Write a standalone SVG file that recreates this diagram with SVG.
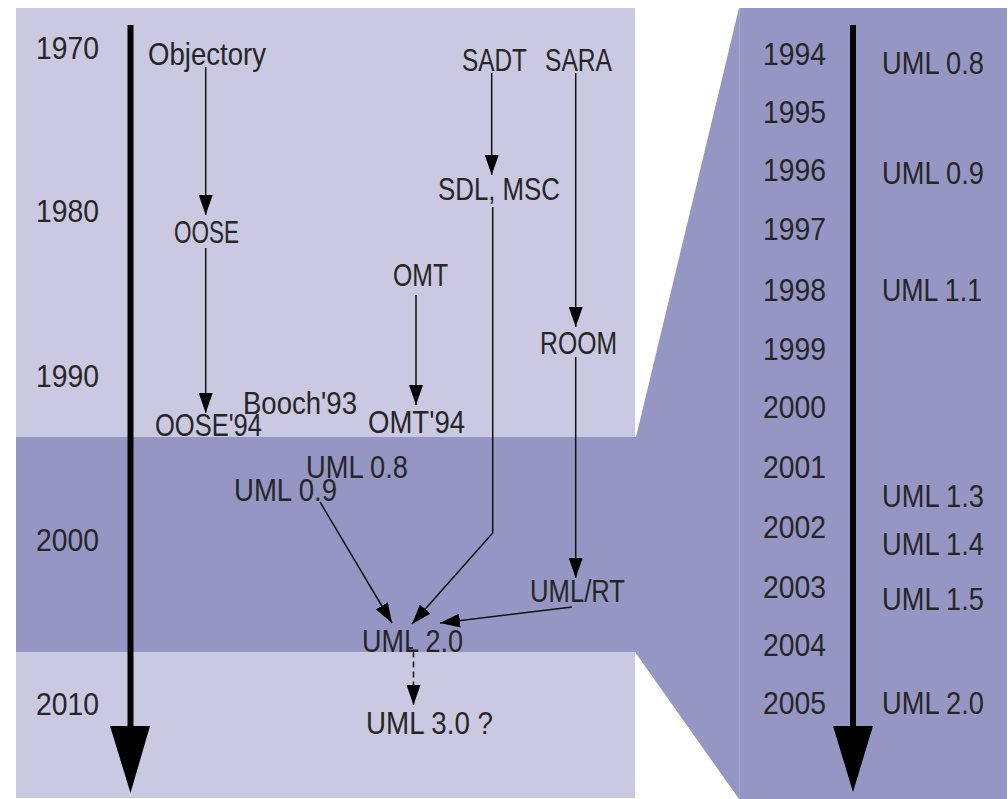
<svg xmlns="http://www.w3.org/2000/svg" width="1008" height="799" viewBox="0 0 1008 799">
<defs>
<style>
.t{font-family:"Liberation Sans",Arial,sans-serif;font-size:32px;fill:#262626}
.c{fill:none;stroke:#111;stroke-width:1.5}
.d{stroke-dasharray:6 4}
.ax{stroke:#000;stroke-width:6}
</style>
<marker id="ah" markerUnits="userSpaceOnUse" markerWidth="20" markerHeight="14" refX="20" refY="7" orient="auto">
<path d="M0,0 L20,7 L0,14 z" fill="#000"/>
</marker>
</defs>
<rect width="1008" height="799" fill="#fff"/>
<g id="background">
<rect x="16" y="8" width="619" height="790" fill="#cac9e1"/>
<polygon points="16,437 636,437 739,8 1007,8 1007,799 739,799 635,652 16,652" fill="#9696c4"/>
<line x1="739.5" y1="8" x2="739.5" y2="799" stroke="#a4a4cd" stroke-width="1"/>
</g>
<g id="axes">
<line class="ax" x1="130.5" y1="25" x2="130.5" y2="730"/>
<polygon points="110,726 150,726 130.5,793" fill="#000"/>
<line class="ax" x1="853" y1="25" x2="853" y2="730"/>
<polygon points="833,726 873,726 853,792" fill="#000"/>
</g>
<g id="years-left">
<text class="t" x="36" y="59" textLength="63" lengthAdjust="spacingAndGlyphs">1970</text>
<text class="t" x="36" y="222" textLength="63" lengthAdjust="spacingAndGlyphs">1980</text>
<text class="t" x="36" y="387" textLength="63" lengthAdjust="spacingAndGlyphs">1990</text>
<text class="t" x="36" y="551" textLength="63" lengthAdjust="spacingAndGlyphs">2000</text>
<text class="t" x="36" y="715" textLength="63" lengthAdjust="spacingAndGlyphs">2010</text>
</g>
<g id="years-right">
<text class="t" x="763" y="65" textLength="63" lengthAdjust="spacingAndGlyphs">1994</text>
<text class="t" x="763" y="123" textLength="63" lengthAdjust="spacingAndGlyphs">1995</text>
<text class="t" x="763" y="181" textLength="63" lengthAdjust="spacingAndGlyphs">1996</text>
<text class="t" x="763" y="240" textLength="63" lengthAdjust="spacingAndGlyphs">1997</text>
<text class="t" x="763" y="301" textLength="63" lengthAdjust="spacingAndGlyphs">1998</text>
<text class="t" x="763" y="360" textLength="63" lengthAdjust="spacingAndGlyphs">1999</text>
<text class="t" x="763" y="418" textLength="63" lengthAdjust="spacingAndGlyphs">2000</text>
<text class="t" x="763" y="478" textLength="63" lengthAdjust="spacingAndGlyphs">2001</text>
<text class="t" x="763" y="538" textLength="63" lengthAdjust="spacingAndGlyphs">2002</text>
<text class="t" x="763" y="598" textLength="63" lengthAdjust="spacingAndGlyphs">2003</text>
<text class="t" x="763" y="656" textLength="63" lengthAdjust="spacingAndGlyphs">2004</text>
<text class="t" x="763" y="714" textLength="63" lengthAdjust="spacingAndGlyphs">2005</text>
</g>
<g id="versions-right">
<text class="t" x="882" y="74" textLength="102" lengthAdjust="spacingAndGlyphs">UML 0.8</text>
<text class="t" x="882" y="184" textLength="102" lengthAdjust="spacingAndGlyphs">UML 0.9</text>
<text class="t" x="882" y="301" textLength="100" lengthAdjust="spacingAndGlyphs">UML 1.1</text>
<text class="t" x="882" y="507" textLength="102" lengthAdjust="spacingAndGlyphs">UML 1.3</text>
<text class="t" x="882" y="555" textLength="102" lengthAdjust="spacingAndGlyphs">UML 1.4</text>
<text class="t" x="882" y="610" textLength="102" lengthAdjust="spacingAndGlyphs">UML 1.5</text>
<text class="t" x="882" y="714" textLength="102" lengthAdjust="spacingAndGlyphs">UML 2.0</text>
</g>
<g id="connectors">
<line class="c" x1="205.7" y1="67" x2="205.7" y2="215" marker-end="url(#ah)"/>
<line class="c" x1="205.7" y1="248" x2="205.7" y2="413" marker-end="url(#ah)"/>
<line class="c" x1="416" y1="295" x2="416" y2="405" marker-end="url(#ah)"/>
<line class="c" x1="491.7" y1="73" x2="491.7" y2="175" marker-end="url(#ah)"/>
<line class="c" x1="575.7" y1="73" x2="575.7" y2="327" marker-end="url(#ah)"/>
<line class="c" x1="575.7" y1="357" x2="575.7" y2="578" marker-end="url(#ah)"/>
<polyline class="c" points="492.7,207 492.7,533 412,624" marker-end="url(#ah)"/>
<line class="c" x1="320" y1="502" x2="392" y2="623" marker-end="url(#ah)"/>
<line class="c" x1="572" y1="607" x2="440" y2="623" marker-end="url(#ah)"/>
<path class="c d" d="M407,648 H413.5 V705" marker-end="url(#ah)"/>
</g>
<g id="node-objectory"><text class="t" x="148" y="65" textLength="118" lengthAdjust="spacingAndGlyphs">Objectory</text></g>
<g id="node-sadt"><text class="t" x="462" y="71" textLength="65" lengthAdjust="spacingAndGlyphs">SADT</text></g>
<g id="node-sara"><text class="t" x="545" y="71" textLength="67" lengthAdjust="spacingAndGlyphs">SARA</text></g>
<g id="node-sdl"><text class="t" x="438" y="200" textLength="122" lengthAdjust="spacingAndGlyphs">SDL, MSC</text></g>
<g id="node-oose"><text class="t" x="174" y="243" textLength="65" lengthAdjust="spacingAndGlyphs">OOSE</text></g>
<g id="node-omt"><text class="t" x="393" y="286" textLength="55" lengthAdjust="spacingAndGlyphs">OMT</text></g>
<g id="node-room"><text class="t" x="540" y="354" textLength="77" lengthAdjust="spacingAndGlyphs">ROOM</text></g>
<g id="node-booch93"><text class="t" x="243" y="414" textLength="114" lengthAdjust="spacingAndGlyphs">Booch'93</text></g>
<g id="node-omt94"><text class="t" x="368" y="433" textLength="97" lengthAdjust="spacingAndGlyphs">OMT'94</text></g>
<g id="node-oose94"><text class="t" x="155" y="436" textLength="107" lengthAdjust="spacingAndGlyphs">OOSE'94</text></g>
<g id="node-uml08"><text class="t" x="306" y="478" textLength="102" lengthAdjust="spacingAndGlyphs">UML 0.8</text></g>
<g id="node-uml09"><text class="t" x="234" y="501" textLength="103" lengthAdjust="spacingAndGlyphs">UML 0.9</text></g>
<g id="node-umlrt"><text class="t" x="530" y="602" textLength="95" lengthAdjust="spacingAndGlyphs">UML/RT</text></g>
<g id="node-uml20"><text class="t" x="362" y="652" textLength="101" lengthAdjust="spacingAndGlyphs">UML 2.0</text></g>
<g id="node-uml30"><text class="t" x="366" y="734" textLength="127" lengthAdjust="spacingAndGlyphs">UML 3.0 ?</text></g>
</svg>
